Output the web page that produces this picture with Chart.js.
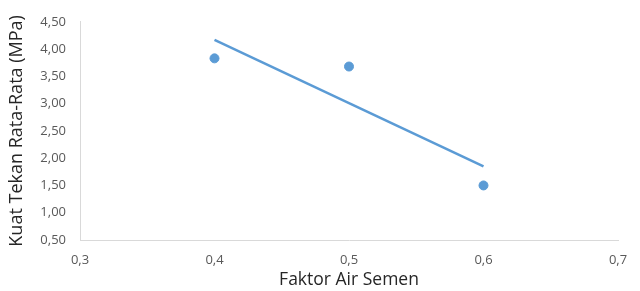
<!DOCTYPE html>
<html>
<head>
<meta charset="utf-8">
<script src="https://cdn.jsdelivr.net/npm/chart.js@4"></script>
<style>
  html, body { margin: 0; padding: 0; background: #fff; }
  #wrap { width: 640px; height: 291px; }
</style>
</head>
<body>
<div id="wrap"><canvas id="chart"></canvas></div>
<script>
// data
const faktorAir = [0.4, 0.5, 0.6]
const kuatTekan = [3.83, 3.68, 1.50]
const trendX = [0.4, 0.6]
const trendY = [4.17, 1.85]

const biru = '#5B9BD5'
const comma = (v, d) => Number(v).toFixed(d).replace('.', ',')

const points = faktorAir.map((x, i) => ({ x: x, y: kuatTekan[i] }))
const trend = trendX.map((x, i) => ({ x: x, y: trendY[i] }))

new Chart(document.getElementById('chart'), {
  type: 'scatter',
  data: {
    datasets: [{
      label: 'Kuat Tekan',
      data: points,
      backgroundColor: biru,
      borderColor: biru,
      pointRadius: 4.5,
      pointHoverRadius: 4.5
    },
    {
      type: 'line',
      label: 'Linear',
      data: trend,
      borderColor: biru,
      borderWidth: 2.5,
      pointRadius: 0,
      fill: false,
      tension: 0
    }]
  },
  options: {
    responsive: true,
    maintainAspectRatio: false,
    animation: false,
    layout: { padding: { top: 19, right: 22, left: 6, bottom: 0 } },
    plugins: {
      legend: { display: false },
      tooltip: { enabled: false }
    },
    scales: {
      x: {
        type: 'linear',
        min: 0.3,
        max: 0.7,
        ticks: {
          stepSize: 0.1,
          color: '#595959',
          font: { family: 'Open Sans', size: 13 },
          padding: 12,
          callback: v => comma(v, 1)
        },
        grid: { display: false, drawTicks: false },
        border: { color: '#D9D9D9', width: 1 },
        title: {
          display: true,
          text: 'Faktor Air Semen',
          color: '#262626',
          font: { family: 'Open Sans', size: 17.5 },
          padding: { top: 0, bottom: 0 }
        },
        afterFit: s => { s.height = 51 }
      },
      y: {
        min: 0.5,
        max: 4.5,
        ticks: {
          stepSize: 0.5,
          color: '#595959',
          font: { family: 'Open Sans', size: 13 },
          padding: 14,
          callback: v => comma(v, 2)
        },
        grid: { display: false, drawTicks: false },
        border: { color: '#D9D9D9', width: 1 },
        title: {
          display: true,
          text: 'Kuat Tekan Rata-Rata (MPa)',
          color: '#262626',
          font: { family: 'Open Sans', size: 18 },
          padding: { top: 0, bottom: 0 }
        },
        afterFit: s => { s.width = 74 }
      }
    }
  }
})
</script>
</body>
</html>
